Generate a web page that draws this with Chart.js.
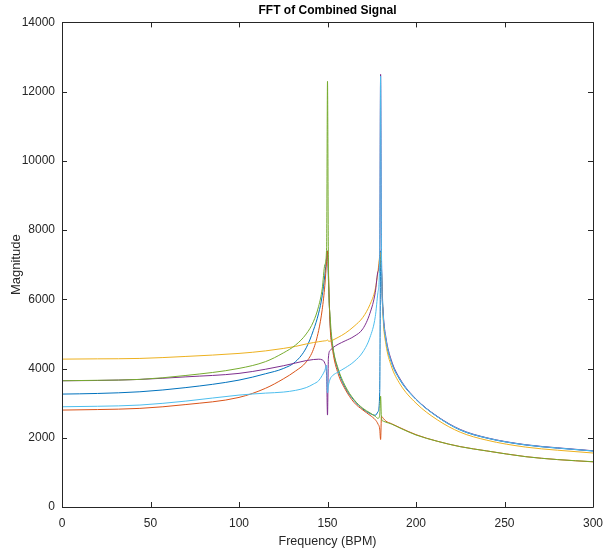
<!DOCTYPE html>
<html>
<head>
<meta charset="utf-8">
<script src="https://cdn.jsdelivr.net/npm/chart.js@4.4.0/dist/chart.umd.min.js"></script>
<style>
  html, body { margin: 0; padding: 0; background: #ffffff; }
  #wrap { width: 603px; height: 554px; }
</style>
</head>
<body>
<div id="wrap"><canvas id="c" width="603" height="554"></canvas></div>
<script>
// Frequency samples (BPM)
const freqs = [0, 20, 44, 70, 100, 115, 125, 132, 138, 142, 145, 147, 148.5, 149.5, 150, 150.5, 151.5, 153, 156, 160, 165, 170, 174, 177, 178.5, 179.5, 180, 180.5, 181.5, 183, 186, 191, 200, 212, 225, 240, 262, 280, 300];

const seriesBlue = [3262, 3280, 3329, 3450, 3666, 3850, 4000, 4200, 4600, 5100, 5600, 6100, 6700, 7200, 7400, 6600, 5300, 4600, 3950, 3450, 3080, 2830, 2700, 2650, 2750, 3300, 7400, 6900, 5500, 4800, 4200, 3666, 3110, 2610, 2223, 1990, 1790, 1700, 1617];
const seriesOrange = [2800, 2815, 2849, 2960, 3166, 3430, 3700, 3930, 4190, 4550, 5100, 5700, 6400, 7100, 7400, 6800, 5200, 4500, 3850, 3400, 3020, 2800, 2650, 2520, 2400, 2250, 1950, 2620, 2560, 2480, 2410, 2290, 2090, 1900, 1745, 1620, 1455, 1370, 1305];
const seriesYellow = [4272, 4280, 4292, 4350, 4437, 4510, 4580, 4640, 4710, 4750, 4775, 4790, 4800, 4810, 4830, 4790, 4790, 4821, 4900, 5020, 5220, 5480, 5850, 6300, 6800, 7250, 7350, 6800, 5400, 4700, 4080, 3550, 3000, 2520, 2160, 1930, 1730, 1640, 1560];
const seriesPurple = [3647, 3655, 3686, 3760, 3860, 3980, 4080, 4160, 4230, 4260, 4270, 4250, 4150, 3800, 2656, 4300, 4520, 4600, 4700, 4800, 4930, 5150, 5600, 6200, 6800, 7300, 12500, 7300, 5600, 4900, 4250, 3700, 3120, 2620, 2240, 2000, 1800, 1710, 1625];
const seriesGreen = [3647, 3660, 3686, 3800, 4004, 4200, 4450, 4680, 5000, 5350, 5800, 6300, 7000, 7500, 12300, 7200, 5500, 4650, 4000, 3500, 3100, 2850, 2720, 2620, 2560, 2650, 3200, 2550, 2480, 2450, 2400, 2280, 2080, 1900, 1742, 1620, 1453, 1370, 1309];
const seriesLightBlue = [2896, 2910, 2945, 3060, 3233, 3290, 3320, 3370, 3450, 3550, 3650, 3800, 3950, 4100, 3300, 3500, 3700, 3800, 3900, 4020, 4200, 4480, 4900, 5500, 6200, 7200, 12450, 7250, 5550, 4850, 4200, 3680, 3110, 2610, 2230, 1995, 1795, 1705, 1620];

const yTicks = [0, 2000, 4000, 6000, 8000, 10000, 12000, 14000];
const xTicks = [0, 50, 100, 150, 200, 250, 300];

const seriesList = [
  { name: 'Signal 1', values: seriesBlue, color: '#0072BD' },
  { name: 'Signal 2', values: seriesOrange, color: '#D95319' },
  { name: 'Signal 3', values: seriesYellow, color: '#EDB120' },
  { name: 'Signal 4', values: seriesPurple, color: '#7E2F8E' },
  { name: 'Signal 5', values: seriesGreen, color: '#77AC30' },
  { name: 'Signal 6', values: seriesLightBlue, color: '#4DBEEE' }
];

const axisColor = '#262626';
const fontFamily = "'Liberation Sans', Arial, Helvetica, sans-serif";

const boxPlugin = {
  id: 'matlabBox',
  afterDatasetsDraw(chart) {
    const { ctx, chartArea: a, scales } = chart;
    ctx.save();
    ctx.strokeStyle = axisColor;
    ctx.lineWidth = 1;
    ctx.beginPath();
    ctx.rect(Math.round(a.left) + 0.5, Math.round(a.top) + 0.5, Math.round(a.right - a.left), Math.round(a.bottom - a.top));
    ctx.stroke();
    const tl = 5;
    ctx.beginPath();
    scales.x.ticks.forEach(t => {
      const px = Math.round(scales.x.getPixelForValue(t.value)) + 0.5;
      ctx.moveTo(px, a.bottom); ctx.lineTo(px, a.bottom - tl);
      ctx.moveTo(px, a.top); ctx.lineTo(px, a.top + tl);
    });
    scales.y.ticks.forEach(t => {
      const py = Math.round(scales.y.getPixelForValue(t.value)) + 0.5;
      ctx.moveTo(a.left, py); ctx.lineTo(a.left + tl, py);
      ctx.moveTo(a.right, py); ctx.lineTo(a.right - tl, py);
    });
    ctx.stroke();
    ctx.restore();
  }
};

new Chart(document.getElementById('c'), {
  type: 'line',
  data: {
    datasets: seriesList.map((s, i) => ({
      label: s.name,
      data: freqs.map((f, k) => ({ x: f, y: s.values[k] })),
      borderColor: s.color,
      backgroundColor: s.color,
      borderWidth: 1,
      pointRadius: 0,
      fill: false,
      cubicInterpolationMode: 'monotone',
      order: seriesList.length - i
    }))
  },
  options: {
    responsive: false,
    animation: false,
    layout: { padding: { left: 0, right: 0, top: 0, bottom: 0 } },
    plugins: {
      legend: { display: false },
      tooltip: { enabled: false },
      title: {
        display: true,
        text: 'FFT of Combined Signal',
        color: '#000000',
        fullSize: false,
        font: { family: fontFamily, size: 12, weight: 'bold', lineHeight: 1.2 },
        padding: { top: 3, bottom: 5 }
      }
    },
    scales: {
      x: {
        type: 'linear',
        min: 0, max: 300,
        afterFit: s => { s.height = 47; s.paddingRight = 10; s.paddingLeft = 0; },
        afterBuildTicks: s => { s.ticks = xTicks.map(v => ({ value: v })); },
        grid: { display: false, drawTicks: false },
        border: { display: false },
        ticks: { color: axisColor, padding: 9, font: { family: fontFamily, size: 12 }, maxRotation: 0, callback: v => String(v) },
        title: { display: true, text: 'Frequency (BPM)', color: axisColor, font: { family: fontFamily, size: 12.5 }, padding: { top: 0, bottom: 5 } }
      },
      y: {
        type: 'linear',
        min: 0, max: 14000,
        afterFit: s => { s.width = 62; },
        afterBuildTicks: s => { s.ticks = yTicks.map(v => ({ value: v })); },
        grid: { display: false, drawTicks: false },
        border: { display: false },
        ticks: { color: axisColor, padding: 7, font: { family: fontFamily, size: 12 }, callback: v => String(v) },
        title: { display: true, text: 'Magnitude', color: axisColor, font: { family: fontFamily, size: 13 }, padding: { top: 9, bottom: 4 } }
      }
    }
  },
  plugins: [boxPlugin]
});
</script>
</body>
</html>
